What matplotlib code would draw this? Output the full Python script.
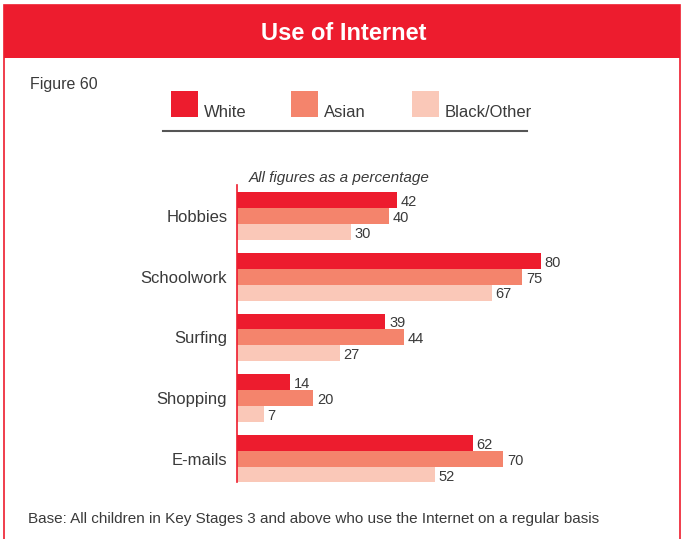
import matplotlib.pyplot as plt
from matplotlib.patches import Rectangle
import numpy as np

plt.rcParams['font.family'] = ['Liberation Sans Narrow', 'Liberation Sans', 'DejaVu Sans']

# data
categories = ["Hobbies", "Schoolwork", "Surfing", "Shopping", "E-mails"]
series_names = ["White", "Asian", "Black/Other"]
white = [42, 80, 39, 14, 62]
asian = [40, 75, 44, 20, 70]
black_other = [30, 67, 27, 7, 52]

colors = ["#ED1C2E", "#F4846C", "#FAC8B8"]
text_col = "#3a3a3a"

W, H = 684, 539
fig = plt.figure(figsize=(W / 100, H / 100), dpi=100)

def fx(px):
    return px / W

def fy(py):
    return 1 - py / H

# frame (open at the bottom edge of the image) and red header
fig.patches.append(Rectangle((fx(4), fy(545)), fx(676), 540 / H, transform=fig.transFigure,
                             fill=False, edgecolor="#ED1C2E", linewidth=1.2))
fig.patches.append(Rectangle((fx(4), fy(58)), fx(676), 53 / H, transform=fig.transFigure,
                             facecolor="#ED1C2E", edgecolor="none"))
fig.text(fx(344), fy(33), "Use of Internet", color="white", fontsize=17, fontweight="bold",
         ha="center", va="center")

fig.text(fx(30), fy(85), "Figure 60", color=text_col, fontsize=11.5, ha="left", va="center")

# legend
sq_x = [171, 291, 412]
for name, c, x in zip(series_names, colors, sq_x):
    fig.patches.append(Rectangle((fx(x), fy(117)), fx(27), 26 / H, transform=fig.transFigure,
                                 facecolor=c, edgecolor="none"))
    fig.text(fx(x + 33), fy(112), name, color=text_col, fontsize=12, ha="left", va="center")
fig.add_artist(plt.Line2D([fx(163), fx(527)], [fy(131), fy(131)], transform=fig.transFigure,
                          color="#555555", linewidth=1.5))

fig.text(fx(249), fy(178), "All figures as a percentage", color=text_col, fontsize=11,
         style="italic", ha="left", va="center")

# bars
ax = fig.add_axes([fx(237), fy(482), fx(323), 297 / H])
y = np.arange(len(categories))
h = 0.262
for k, (vals, c) in enumerate(zip([white, asian, black_other], colors)):
    pos = y + (k - 1) * h
    ax.barh(pos, vals, height=h, color=c, edgecolor="none")
    for p, v in zip(pos, vals):
        ax.text(v + 1.0, p + 0.03, str(v), color=text_col, fontsize=10.5, ha="left", va="center")

ax.set_xlim(0, 85)
ax.set_ylim(4.38, -0.51)
ax.set_yticks(y)
ax.set_yticklabels(categories, fontsize=12, color=text_col)
ax.tick_params(axis="y", length=0, pad=7)
ax.set_xticks([])
for s in ["top", "right", "bottom"]:
    ax.spines[s].set_visible(False)
ax.spines["left"].set_color("#ED1C2E")
ax.spines["left"].set_linewidth(1.2)
ax.patch.set_alpha(0)

fig.text(fx(28), fy(519), "Base: All children in Key Stages 3 and above who use the Internet on a regular basis",
         color=text_col, fontsize=11, ha="left", va="center")

fig.savefig("out.png", dpi=100)
